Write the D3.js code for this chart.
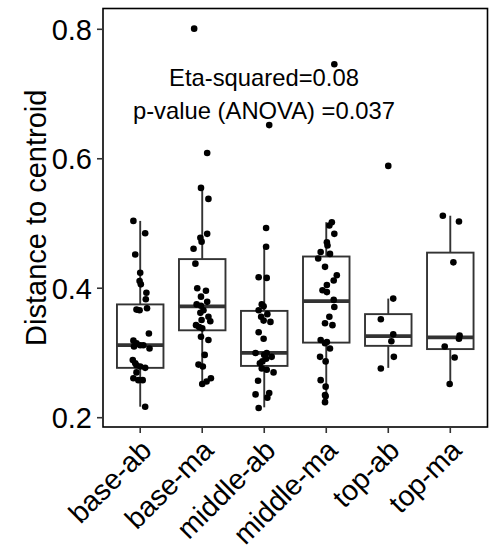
<!DOCTYPE html>
<html><head><meta charset="utf-8">
<script src="https://cdn.jsdelivr.net/npm/d3@7"></script>
<style>body{margin:0;background:#fff}svg{display:block}</style>
</head><body>
<svg id="chart" width="489" height="553"></svg>
<script>
// ---------- data ----------
const categories = ["base-ab","base-ma","middle-ab","middle-ma","top-ab","top-ma"];
const yTicks = [0.2, 0.4, 0.6, 0.8];
const yTickLabels = ["0.2", "0.4", "0.6", "0.8"];
const yTitle = "Distance to centroid";
const annotationLines = ["Eta-squared=0.08", "p-value (ANOVA) =0.037"];

// box statistics
const whiskerLow  = [0.217, 0.253, 0.216, 0.223, 0.277, 0.251];
const q1          = [0.277, 0.335, 0.280, 0.316, 0.311, 0.306];
const median      = [0.312, 0.372, 0.300, 0.380, 0.326, 0.324];
const q3          = [0.375, 0.445, 0.365, 0.449, 0.360, 0.455];
const whiskerHigh = [0.504, 0.555, 0.465, 0.502, 0.384, 0.512];

// jittered observations (value, horizontal jitter in category units)
const baseAbValues = [0.504,0.485,0.452,0.424,0.411,0.406,0.393,0.383,0.369,0.367,0.366,0.330,0.319,0.315,0.312,0.312,0.310,0.307,0.289,0.284,0.281,0.279,0.277,0.270,0.261,0.258,0.258,0.217];
const baseAbJitter = [-0.11,0.08,-0.08,0.00,-0.01,0.01,0.10,0.09,0.11,-0.06,-0.01,0.14,-0.11,-0.06,0.00,0.05,-0.10,0.15,-0.12,-0.08,-0.06,0.00,0.08,-0.06,-0.11,-0.03,0.04,0.08];

const baseMaValues = [0.801,0.609,0.555,0.538,0.484,0.478,0.472,0.461,0.438,0.400,0.396,0.387,0.379,0.375,0.373,0.366,0.362,0.356,0.351,0.349,0.343,0.340,0.338,0.325,0.320,0.297,0.282,0.279,0.261,0.256,0.252];
const baseMaJitter = [-0.13,0.08,-0.02,0.10,0.08,-0.03,-0.01,-0.14,-0.11,-0.08,0.06,-0.02,0.08,-0.09,-0.02,0.02,-0.03,0.10,-0.01,0.13,-0.10,-0.05,0.00,-0.02,0.10,0.04,-0.06,0.01,0.14,0.07,0.00];

const middleAbValues = [0.652,0.493,0.464,0.417,0.416,0.375,0.372,0.366,0.360,0.356,0.350,0.348,0.332,0.322,0.300,0.300,0.297,0.294,0.291,0.287,0.284,0.276,0.274,0.270,0.257,0.238,0.236,0.231,0.215];
const middleAbJitter = [0.08,0.03,0.03,-0.09,0.04,-0.04,-0.01,-0.09,0.05,-0.05,-0.01,0.10,-0.09,-0.01,-0.14,0.04,0.00,0.12,0.03,-0.03,-0.07,-0.04,0.04,0.15,-0.10,0.08,-0.14,0.05,-0.09];

const middleMaValues = [0.746,0.502,0.497,0.484,0.471,0.466,0.456,0.453,0.446,0.433,0.420,0.412,0.405,0.397,0.394,0.382,0.371,0.356,0.346,0.343,0.320,0.317,0.315,0.307,0.294,0.287,0.258,0.248,0.235,0.233,0.224];
const middleMaJitter = [0.13,0.09,0.05,0.13,0.01,0.02,-0.09,0.06,-0.13,-0.02,0.17,0.12,0.01,-0.06,0.01,0.12,0.13,0.05,-0.02,0.10,-0.09,0.01,-0.02,0.06,-0.10,-0.01,-0.09,-0.01,-0.02,-0.01,-0.02];

const topAbValues = [0.589,0.384,0.352,0.329,0.318,0.294,0.276];
const topAbJitter = [0.00,0.08,-0.12,0.08,0.05,0.09,-0.12];

const topMaValues = [0.512,0.503,0.440,0.327,0.322,0.310,0.293,0.252];
const topMaJitter = [-0.12,0.14,0.05,0.15,0.14,-0.09,0.07,-0.01];

const groupValues = [baseAbValues, baseMaValues, middleAbValues, middleMaValues, topAbValues, topMaValues];
const groupJitter = [baseAbJitter, baseMaJitter, middleAbJitter, middleMaJitter, topAbJitter, topMaJitter];

// ---------- layout ----------
const W = 489, H = 553;
const panel = {left: 103, right: 487.5, top: 8.5, bottom: 427};
const FONT = "'Liberation Sans', Arial, Helvetica, sans-serif";

const svg = d3.select("#chart");
svg.append("rect").attr("width", W).attr("height", H).attr("fill", "#fff");

const x = d3.scalePoint().domain(categories).range([panel.left, panel.right]).padding(0.6);
const y = d3.scaleLinear().domain([0.2, 0.8]).range([417.7, 29.3]);
const step = x.step();
const boxW = step * 0.75;

const boxes = categories.map((c, i) => ({
  cat: c, lo: whiskerLow[i], q1: q1[i], med: median[i], q3: q3[i], hi: whiskerHigh[i]
}));

const g = svg.append("g");
const boxColor = "#333333";

// whiskers
g.selectAll("line.wh-up").data(boxes).join("line")
  .attr("x1", d => x(d.cat)).attr("x2", d => x(d.cat))
  .attr("y1", d => y(d.q3)).attr("y2", d => y(d.hi))
  .attr("stroke", boxColor).attr("stroke-width", 1.9);
g.selectAll("line.wh-lo").data(boxes).join("line")
  .attr("x1", d => x(d.cat)).attr("x2", d => x(d.cat))
  .attr("y1", d => y(d.q1)).attr("y2", d => y(d.lo))
  .attr("stroke", boxColor).attr("stroke-width", 1.9);
// boxes
g.selectAll("rect.box").data(boxes).join("rect")
  .attr("x", d => x(d.cat) - boxW / 2).attr("width", boxW)
  .attr("y", d => y(d.q3)).attr("height", d => y(d.q1) - y(d.q3))
  .attr("fill", "#fff").attr("stroke", boxColor).attr("stroke-width", 1.9);
// medians
g.selectAll("line.med").data(boxes).join("line")
  .attr("x1", d => x(d.cat) - boxW / 2).attr("x2", d => x(d.cat) + boxW / 2)
  .attr("y1", d => y(d.med)).attr("y2", d => y(d.med))
  .attr("stroke", boxColor).attr("stroke-width", 3.8);

// points
const pts = [];
categories.forEach((c, i) => groupValues[i].forEach((v, k) => pts.push({cat: c, v, j: groupJitter[i][k]})));
g.selectAll("circle.pt").data(pts).join("circle")
  .attr("cx", d => x(d.cat) + d.j * step)
  .attr("cy", d => y(d.v))
  .attr("r", 3.3).attr("fill", "#000");

// panel border
svg.append("rect")
  .attr("x", panel.left).attr("y", panel.top)
  .attr("width", panel.right - panel.left).attr("height", panel.bottom - panel.top)
  .attr("fill", "none").attr("stroke", "#000").attr("stroke-width", 1.6);

// y axis
const yAxis = svg.append("g");
yAxis.selectAll("line").data(yTicks).join("line")
  .attr("x1", panel.left - 6).attr("x2", panel.left)
  .attr("y1", d => y(d)).attr("y2", d => y(d))
  .attr("stroke", "#333").attr("stroke-width", 1.6);
yAxis.selectAll("text").data(yTicks).join("text")
  .attr("x", panel.left - 11).attr("y", d => y(d))
  .attr("dy", "0.36em").attr("text-anchor", "end")
  .attr("font-family", FONT).attr("font-size", 29).attr("fill", "#000")
  .text((d, i) => yTickLabels[i]);

// x axis
const xAxis = svg.append("g");
xAxis.selectAll("line").data(categories).join("line")
  .attr("x1", d => x(d)).attr("x2", d => x(d))
  .attr("y1", panel.bottom).attr("y2", panel.bottom + 6)
  .attr("stroke", "#333").attr("stroke-width", 1.6);
xAxis.selectAll("text").data(categories).join("text")
  .attr("transform", d => `translate(${x(d) + 13},${452}) rotate(-45)`)
  .attr("text-anchor", "end")
  .attr("font-family", FONT).attr("font-size", 28.5).attr("fill", "#000")
  .text(d => d);

// y title
svg.append("text")
  .attr("transform", `translate(46,${(panel.top + panel.bottom) / 2}) rotate(-90)`)
  .attr("text-anchor", "middle")
  .attr("font-family", FONT).attr("font-size", 29).attr("fill", "#000")
  .text(yTitle);

// annotation
svg.selectAll("text.ann").data(annotationLines).join("text")
  .attr("class", "ann")
  .attr("x", 264).attr("y", (d, i) => 85.5 + i * 33)
  .attr("text-anchor", "middle")
  .attr("font-family", FONT).attr("font-size", 23.8).attr("fill", "#000")
  .text(d => d);
</script>
</body></html>
